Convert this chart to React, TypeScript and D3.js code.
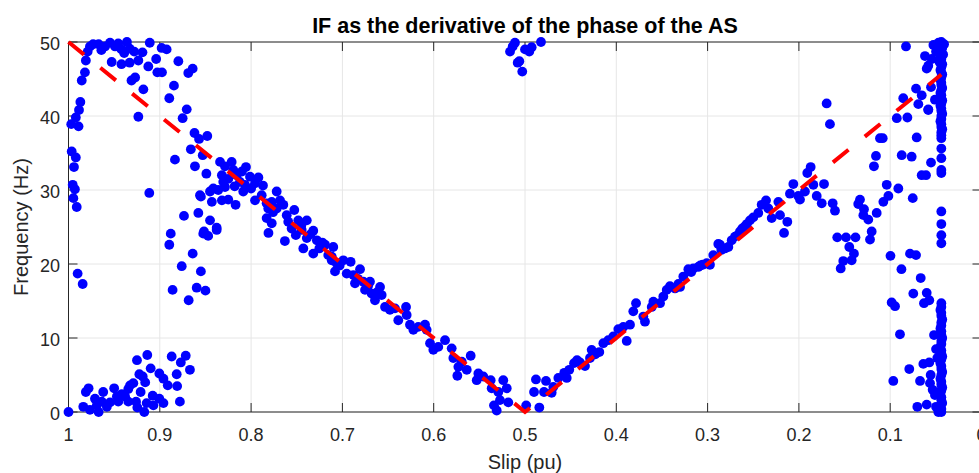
import React from 'react';
import * as d3 from 'd3';

// ---------- data ----------
const xTicks = [1, 0.9, 0.8, 0.7, 0.6, 0.5, 0.4, 0.3, 0.2, 0.1, 0];
const xTickLabels = ['1', '0.9', '0.8', '0.7', '0.6', '0.5', '0.4', '0.3', '0.2', '0.1', '0'];
const yTicks = [0, 10, 20, 30, 40, 50];
const yTickLabels = ['0', '10', '20', '30', '40', '50'];

// theoretical line (slip, Hz)
const lineSlip = [1, 0.5, 0.044];
const lineFreq = [50, 0, 45.6];

// estimated instantaneous frequency points [slip, Hz]
const pointsLeftUpper: [number, number][] = [
  [0.997,38.9],[0.992,39.8],[0.9885,40.8],[0.987,41.9],[0.989,38.6],[0.9855,44.8],[0.982,45.9],[0.981,47.5],[0.979,48.7],[0.9765,49.4],
  [0.973,49.7],[0.967,49.7],[0.964,48.9],[0.96,49.4],[0.9545,49.9],[0.949,49.4],[0.9455,49.8],[0.942,49.0],[0.939,48.5],[0.936,50.0],
  [0.933,49.1],[0.928,48.7],[0.919,48.6],[0.911,49.9],[0.898,49.2],[0.8925,49.0],[0.9527,47.3],[0.942,47.0],[0.933,47.2],[0.9235,47.5],
  [0.9126,46.7],[0.904,47.7],[0.9027,45.9],[0.8976,45.9],[0.8797,47.4],[0.8688,45.8],[0.864,46.4],[0.931,44.8],[0.927,45.2],[0.918,43.6],
  [0.8845,44.1],[0.8896,42.4],[0.9235,39.9],[0.8705,40.9],[0.875,39.7],[0.862,37.7],[0.857,36.9],[0.848,37.3],[0.866,35.5],[0.853,34.7],
  [0.8834,34.1],[0.8615,33.2],[0.849,32.2],[0.9115,29.6],[0.856,29.3],[0.855,29.1],[0.9965,35.2],[0.992,34.4],[0.994,33.1],[0.9954,30.7],
  [0.993,30.1],[0.9947,28.9],[0.991,27.7],[0.99,18.7],[0.9845,17.3],
];

const pointsLeftMid: [number, number][] = [
  [0.843,28.4],[0.832,28.6],[0.825,28.7],[0.817,28.0],[0.8735,26.5],[0.8578,26.9],[0.845,25.9],[0.8377,24.9],[0.888,24.1],[0.8516,24.4],
  [0.847,23.8],[0.8896,22.6],[0.876,19.7],[0.864,21.4],[0.855,19.0],[0.8596,16.8],[0.886,16.5],[0.8684,15.1],[0.85,16.4],[0.8524,24.1],
  [0.8377,24.6],[0.781,24.2],[0.763,23.1],
];

const pointsLeftLow: [number, number][] = [
  [1.0,0.0],[0.9838,0.7],[0.981,2.7],[0.978,3.2],[0.9765,0.3],[0.971,1.8],[0.969,0.9],[0.967,0.0],[0.962,2.7],[0.9636,1.4],
  [0.958,0.7],[0.9545,1.3],[0.95,3.2],[0.947,2.1],[0.9455,1.4],[0.9417,2.4],[0.938,2.1],[0.9345,3.1],[0.9326,3.6],[0.929,3.9],
  [0.9345,1.4],[0.926,1.4],[0.925,7.0],[0.9224,5.1],[0.9187,4.8],[0.916,4.0],[0.921,2.7],[0.9246,0.6],[0.917,0.0],[0.9144,1.2],
  [0.9137,7.7],[0.91,5.9],[0.9078,2.2],[0.907,0.9],[0.9005,5.2],[0.896,4.5],[0.9005,1.8],[0.896,1.2],[0.8913,3.6],[0.887,7.5],
  [0.8815,5.1],[0.877,6.7],[0.8716,7.6],[0.867,5.7],[0.881,3.5],[0.878,1.4],
];

const pointsDescending: [number, number][] = [
  [0.834,33.8],[0.8286,33.2],[0.8213,33.8],[0.8195,32.7],[0.8056,33.1],[0.832,32.0],[0.8305,31.1],[0.8158,32.0],[0.8122,31.1],[0.8012,31.8],
  [0.7957,30.9],[0.792,31.7],[0.8067,30.7],[0.8414,30.2],[0.845,29.8],[0.836,30.0],[0.8286,30.4],[0.8086,29.8],[0.7957,28.6],[0.7884,29.3],
  [0.783,28.2],[0.772,29.8],[0.7774,28.4],[0.7683,28.6],[0.7647,28.0],[0.7812,27.5],[0.772,27.5],[0.783,26.2],[0.7774,25.5],[0.7527,27.3],
  [0.761,26.6],[0.7593,25.7],[0.7556,24.8],[0.7483,25.9],[0.739,25.9],[0.7446,24.6],[0.7319,24.5],[0.751,23.9],[0.739,23.5],[0.7428,22.1],
  [0.728,23.2],[0.7253,22.1],[0.719,22.6],[0.7319,21.4],[0.71,22.3],[0.7117,20.5],[0.7063,20.1],[0.7155,21.2],[0.7117,21.0],[0.7081,19.0],
  [0.699,20.5],[0.691,20.3],[0.6953,18.7],[0.6862,17.4],[0.6807,19.3],[0.677,17.6],[0.6698,17.6],[0.6752,16.5],[0.668,16.0],[0.6588,16.9],
  [0.6643,15.1],[0.657,15.8],[0.6533,14.2],[0.6479,13.8],[0.6424,14.0],[0.6388,12.4],[0.6303,14.2],[0.6296,13.1],[0.626,11.8],[0.6223,11.1],
  [0.6169,11.5],[0.6095,11.8],[0.6077,11.1],[0.604,9.3],[0.6004,8.4],[0.595,8.8],[0.5876,9.7],[0.5803,8.6],[0.5785,7.3],[0.573,6.1],
  [0.5693,6.8],[0.5741,4.9],[0.5638,5.7],[0.5595,7.6],[0.5529,4.3],[0.5511,5.2],[0.5457,4.8],[0.5376,4.3],[0.5365,3.2],[0.5292,2.7],
  [0.5238,4.3],[0.52,3.2],[0.5183,1.3],[0.5274,1.6],[0.534,0.9],[0.531,0.2],
  [0.825,31.5],[0.818,30.5],[0.81,32.5],[0.8,30.2],[0.787,30.6],[0.776,27.0],[0.745,25.2],[0.735,24.0],[0.722,22.9],
  [0.703,19.8],[0.688,18.5],[0.683,18.0],[0.672,17.0],[0.662,16.2],
];

const pointsAscending: [number, number][] = [
  [0.4987,0.9],[0.4843,0.6],[0.4901,2.7],[0.488,4.4],[0.477,4.2],[0.4792,2.7],[0.4708,2.6],[0.469,3.4],[0.4635,4.6],[0.4543,4.6],
  [0.4515,5.7],[0.4463,6.6],[0.4398,6.7],[0.4343,6.2],[0.4288,7.3],[0.427,8.4],[0.4186,8.1],[0.4142,9.3],[0.4088,9.7],[0.4033,10.2],
  [0.3978,11.2],[0.3923,11.5],[0.3886,9.6],[0.385,11.8],[0.3814,13.6],[0.3784,14.7],[0.3704,12.9],[0.3686,12.2],[0.3612,14.2],[0.3594,14.9],
  [0.3521,14.7],[0.3485,15.6],[0.3448,16.5],[0.3412,17.0],[0.3357,16.7],[0.3302,16.9],[0.3266,18.3],[0.3211,19.3],[0.3157,19.4],[0.3102,19.6],
  [0.3054,19.9],[0.301,20.1],[0.2974,19.9],[0.2938,21.2],[0.2883,22.7],[0.2865,22.6],[0.2773,22.3],[0.2736,23.2],[0.27,23.7],[0.2645,24.4],
  [0.259,25.1],[0.2536,25.9],[0.25,26.3],[0.2445,26.9],[0.2408,28.0],[0.236,28.6],[0.2335,27.5],[0.2298,26.2],[0.2225,28.4],[0.2207,26.6],
  [0.2127,25.7],[0.2163,24.2],[0.2098,29.5],[0.2061,30.8],[0.2007,29.2],[0.1988,28.7],[0.1934,29.8],[0.1908,32.3],[0.1871,33.1],[0.1842,30.7],
  [0.1805,29.2],[0.175,28.2],[0.1725,30.8],
  [0.457,5.3],[0.443,7.0],[0.423,7.8],[0.332,17.3],[0.318,18.9],[0.308,19.8],[0.285,21.9],[0.281,22.1],[0.267,23.9],[0.262,24.8],[0.257,25.4],
];

const pointsTopMid: [number, number][] = [
  [0.511,49.9],[0.5135,49.4],[0.5164,48.7],[0.5,49.0],[0.4953,48.7],[0.4927,49.3],[0.5062,47.4],[0.508,47.2],[0.503,46.0],[0.4825,50.0],
];

const pointsRight: [number, number][] = [
  [0.1696,41.7],[0.166,38.9],[0.163,28.2],[0.1605,27.2],[0.158,23.6],[0.1484,23.6],[0.1448,22.3],[0.1397,21.4],[0.1422,20.5],[0.1514,20.4],
  [0.1542,19.4],[0.138,23.6],[0.1331,28.7],[0.135,28.1],[0.1287,27.4],[0.1294,26.6],[0.124,26.0],[0.1203,24.4],[0.1221,23.3],[0.1148,26.9],
  [0.1178,33.2],[0.1156,34.6],[0.1112,37.0],[0.0827,49.4],[0.0619,48.1],[0.06,46.4],[0.0553,43.9],[0.0583,40.8],[0.0692,41.6],[0.0655,42.8],
  [0.0717,43.7],[0.0857,42.4],[0.0928,39.7],[0.0812,39.8],[0.071,37.1],[0.051,42.2],[0.1082,37.0],[0.0874,34.7],[0.0765,34.5],[0.0553,33.7],
  [0.0655,32.0],[0.0608,32.0],[0.1038,30.7],[0.0911,30.2],[0.102,29.2],[0.1075,28.4],[0.0753,28.9],[0.0997,21.1],[0.0783,21.4],[0.0717,21.2],
  [0.0877,19.3],[0.0666,18.1],[0.0747,16.0],[0.06,16.1],[0.063,14.7],[0.0572,15.1],[0.0984,14.8],[0.0947,14.3],[0.0893,10.5],[0.052,10.4],
  [0.0498,8.5],[0.0484,7.3],[0.0637,6.5],[0.0572,6.7],[0.0791,5.8],[0.0966,4.2],[0.0673,4.2],[0.0557,5.0],[0.0564,3.9],[0.0535,3.0],
  [0.051,2.3],[0.0703,0.7],[0.06,1.0],[0.0498,0.7],[0.0473,0.0],[0.0527,49.6],[0.0583,46.8],[0.0545,47.7],[0.0498,48.7],[0.0583,40.9],
];

const pointsColumn: [number, number][] = [
  [0.044,50.0],[0.047,49.9],[0.041,49.7],[0.045,49.5],[0.043,49.2],[0.046,48.9],[0.044,48.7],[0.042,48.3],[0.045,48.0],[0.044,47.7],
  [0.046,47.3],[0.043,47.0],[0.044,46.6],[0.045,46.2],[0.044,45.9],[0.043,45.6],[0.044,45.2],[0.045,44.9],[0.044,44.5],[0.044,44.2],
  [0.043,43.8],[0.044,43.5],[0.045,43.1],[0.044,42.8],[0.044,42.4],[0.043,42.1],[0.044,41.7],[0.045,41.4],[0.044,41.0],[0.044,40.7],
  [0.043,40.3],[0.044,40.0],[0.044,39.6],[0.045,39.3],[0.044,38.9],[0.044,38.5],[0.043,38.2],[0.044,37.8],[0.044,37.4],[0.044,37.0],
  [0.044,35.6],[0.044,34.3],[0.044,32.7],[0.044,32.3],[0.044,27.1],[0.044,25.4],[0.044,23.9],[0.044,22.8],
  [0.044,14.7],[0.044,14.2],[0.045,13.8],[0.044,13.4],[0.044,13.0],[0.043,12.5],[0.044,12.1],[0.044,11.7],[0.045,11.3],[0.044,10.9],
  [0.044,10.4],[0.043,10.0],[0.044,9.6],[0.044,9.2],[0.045,8.8],[0.044,8.3],[0.044,7.9],[0.043,7.5],[0.044,7.1],[0.045,6.6],
  [0.044,6.2],[0.044,5.8],[0.043,5.4],[0.044,5.0],[0.045,4.5],[0.044,4.1],[0.044,3.7],[0.043,3.3],[0.044,2.9],[0.045,2.5],
  [0.044,2.0],[0.044,1.6],[0.043,1.2],[0.045,0.8],[0.044,0.4],[0.044,0.0],[0.046,0.2],
];

// ---------- chart ----------
const W = 979;
const H = 473;
const left = 68.5;
const right = 981.5;
const top = 42;
const bottom = 412;
const axisColor = '#262626';
const gridColor = '#e6e6e6';
const font = '"Liberation Sans", Arial, Helvetica, sans-serif';

export default function App() {
  const x = d3.scaleLinear().domain([1, 0]).range([left, right]);
  const y = d3.scaleLinear().domain([0, 50]).range([bottom, top]);
  const allPoints = [
    ...pointsLeftUpper, ...pointsLeftMid, ...pointsLeftLow, ...pointsDescending,
    ...pointsAscending, ...pointsTopMid, ...pointsRight, ...pointsColumn,
  ];
  const linePath = d3.line<number>()
    .x((_, i) => x(lineSlip[i]))
    .y((_, i) => y(lineFreq[i]))(lineFreq) || '';
  const tickLen = 9;

  return (
    <svg width={W} height={H} style={{ position: 'absolute', left: 0, top: 0, background: '#fff' }}
      fontFamily={font}>
      <rect x={0} y={0} width={W} height={H} fill="#fff" />
      {/* grid */}
      {xTicks.map((t) => (
        <line key={'gx' + t} x1={x(t)} x2={x(t)} y1={top} y2={bottom} stroke={gridColor} strokeWidth={1} />
      ))}
      {yTicks.map((t) => (
        <line key={'gy' + t} x1={left} x2={right} y1={y(t)} y2={y(t)} stroke={gridColor} strokeWidth={1} />
      ))}
      {/* box */}
      <line x1={left} x2={right} y1={top} y2={top} stroke={axisColor} strokeWidth={1} />
      <line x1={left} x2={right} y1={bottom} y2={bottom} stroke={axisColor} strokeWidth={1} />
      <line x1={left} x2={left} y1={top} y2={bottom} stroke={axisColor} strokeWidth={1} />
      <line x1={right} x2={right} y1={top} y2={bottom} stroke={axisColor} strokeWidth={1} />
      {/* ticks */}
      {xTicks.map((t) => (
        <g key={'tx' + t}>
          <line x1={x(t)} x2={x(t)} y1={bottom} y2={bottom - tickLen} stroke={axisColor} strokeWidth={1} />
          <line x1={x(t)} x2={x(t)} y1={top} y2={top + tickLen} stroke={axisColor} strokeWidth={1} />
        </g>
      ))}
      {yTicks.map((t) => (
        <g key={'ty' + t}>
          <line x1={left} x2={left + tickLen} y1={y(t)} y2={y(t)} stroke={axisColor} strokeWidth={1} />
          <line x1={right} x2={right - tickLen} y1={y(t)} y2={y(t)} stroke={axisColor} strokeWidth={1} />
        </g>
      ))}
      {/* points */}
      {allPoints.map((p, i) => (
        <circle key={'p' + i} cx={x(p[0])} cy={y(p[1])} r={4.9} fill="#0000ff" />
      ))}
      {/* theoretical line */}
      <path d={linePath} fill="none" stroke="#ff0000" strokeWidth={4} strokeDasharray="20 21" />
      {/* tick labels */}
      {xTicks.map((t, i) => (
        <text key={'lx' + t} x={x(t)} y={440.5} textAnchor="middle" fontSize={18} fill={axisColor}>
          {xTickLabels[i]}
        </text>
      ))}
      {yTicks.map((t, i) => (
        <text key={'ly' + t} x={60} y={y(t) + 7.5} textAnchor="end" fontSize={18} fill={axisColor}>
          {yTickLabels[i]}
        </text>
      ))}
      {/* labels */}
      <text x={(left + right) / 2} y={33} textAnchor="middle" fontSize={21.5} fontWeight="bold" fill="#000">
        IF as the derivative of the phase of the AS
      </text>
      <text x={(left + right) / 2} y={469} textAnchor="middle" fontSize={20} fill={axisColor}>
        Slip (pu)
      </text>
      <text transform={`translate(28,${(top + bottom) / 2}) rotate(-90)`} textAnchor="middle" fontSize={20} fill={axisColor}>
        Frequency (Hz)
      </text>
    </svg>
  );
}
